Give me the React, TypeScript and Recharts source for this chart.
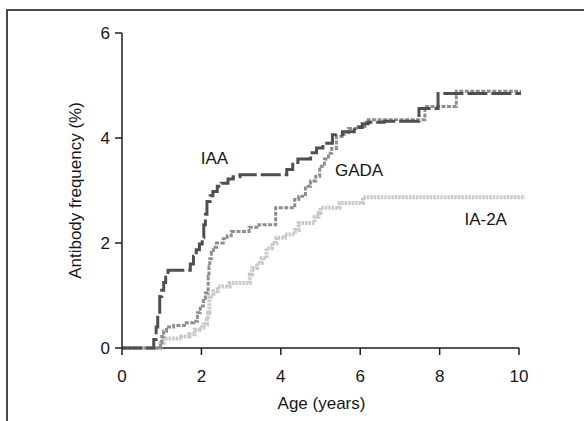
import React from 'react';
import { LineChart, Line, XAxis, YAxis, ReferenceLine, ReferenceDot, Label } from 'recharts';

// Cumulative antibody frequency (%) by age (years), step curves
const iaaAge = [0, 0.8, 0.86, 0.9, 0.95, 1.0, 1.05, 1.1, 1.16, 1.72, 1.8, 1.87, 1.95, 2.02, 2.06, 2.1, 2.14, 2.22, 2.29, 2.4, 2.5, 2.67, 2.8, 2.97, 4.15, 4.3, 4.43, 4.75, 4.9, 5.06, 5.3, 5.55, 5.85, 6.05, 6.2, 6.6, 7.48, 7.96, 10.05];
const iaaPct = [0, 0.16, 0.4, 0.65, 0.98, 1.1, 1.25, 1.38, 1.48, 1.6, 1.75, 1.87, 1.98, 2.1, 2.35, 2.55, 2.79, 2.9, 2.98, 3.08, 3.14, 3.22, 3.26, 3.3, 3.4, 3.5, 3.6, 3.72, 3.81, 3.9, 4.06, 4.12, 4.2, 4.27, 4.3, 4.32, 4.56, 4.85, 4.85];

const gadaAge = [0, 0.97, 1.0, 1.05, 1.12, 1.3, 1.62, 1.8, 1.9, 1.97, 2.05, 2.1, 2.17, 2.19, 2.21, 2.25, 2.3, 2.38, 2.55, 2.65, 2.75, 3.2, 3.45, 3.87, 4.35, 4.45, 4.62, 4.75, 4.88, 4.98, 5.1, 5.2, 5.28, 5.4, 5.6, 5.7, 5.95, 6.16, 7.63, 8.42, 10.05];
const gadaPct = [0, 0.1, 0.22, 0.32, 0.4, 0.43, 0.48, 0.51, 0.67, 0.8, 0.95, 1.05, 1.36, 1.55, 1.7, 1.82, 1.92, 2.0, 2.08, 2.14, 2.22, 2.3, 2.35, 2.67, 2.83, 2.89, 3.08, 3.18, 3.27, 3.46, 3.6, 3.71, 3.8, 4.03, 4.1, 4.18, 4.22, 4.35, 4.6, 4.89, 4.89];

const ia2aAge = [0, 0.97, 1.05, 1.5, 1.7, 1.83, 1.95, 2.05, 2.14, 2.17, 2.2, 2.3, 2.41, 2.71, 3.22, 3.28, 3.4, 3.52, 3.64, 3.78, 3.89, 4.1, 4.35, 4.45, 4.85, 4.95, 5.0, 5.48, 6.07, 10.15];
const ia2aPct = [0, 0.1, 0.18, 0.22, 0.26, 0.35, 0.39, 0.45, 0.55, 0.67, 0.98, 1.08, 1.17, 1.24, 1.4, 1.52, 1.62, 1.71, 1.9, 2.0, 2.1, 2.16, 2.25, 2.38, 2.5, 2.57, 2.67, 2.76, 2.87, 2.87];

const ageTicks = [0, 2, 4, 6, 8, 10];
const pctTicks = [0, 2, 4, 6];
const ageAxisMax = 10.15;
const ageAxisEnd = 10;

// Curve name labels placed at (age, pct)
const curveNames = [
  { name: 'IAA', age: 2.33, pct: 3.62 },
  { name: 'GADA', age: 5.97, pct: 3.39 },
  { name: 'IA-2A', age: 9.16, pct: 2.46 },
];

const toRows = (ages: number[], pcts: number[]) => ages.map((age, i) => ({ age, pct: pcts[i] }));

const iaaData = toRows(iaaAge, iaaPct);
const gadaData = toRows(gadaAge, gadaPct);
const ia2aData = toRows(ia2aAge, ia2aPct);

const FONT = '"Liberation Sans", Arial, Helvetica, sans-serif';
const INK = '#151515';
const AXIS = '#1e1e1e';

export default function App() {
  return (
    <div style={{ position: 'absolute', left: 0, top: 0, width: 584, height: 421, overflow: 'hidden', background: '#fff', fontFamily: FONT }}>
      <div
        style={{
          position: 'absolute',
          left: 6,
          top: 9,
          width: 700,
          height: 600,
          borderLeft: '2px solid #4a4a4a',
          borderTop: '2px solid #4a4a4a',
        }}
      />
      <div style={{ position: 'absolute', left: 0, top: 0 }}>
        <LineChart width={584} height={421} margin={{ top: 33, right: 59, bottom: 0, left: 0 }} style={{ fontFamily: FONT }}>
          <XAxis
            type="number"
            dataKey="age"
            domain={[0, ageAxisMax]}
            ticks={ageTicks}
            interval={0}
            height={73}
            axisLine={false}
            tickSize={7}
            tickMargin={15}
            tickLine={{ stroke: AXIS, strokeWidth: 1.5 }}
            tick={{ fill: INK, fontSize: 17, fontFamily: FONT }}
          >
            <Label
              content={({ viewBox }: any) => (
                <text
                  x={viewBox.x + viewBox.width / 2 - 2}
                  y={viewBox.y + 61}
                  textAnchor="middle"
                  fill={INK}
                  fontSize={17}
                  fontFamily={FONT}
                >
                  Age (years)
                </text>
              )}
            />
          </XAxis>
          <YAxis
            type="number"
            domain={[0, 6]}
            ticks={pctTicks}
            interval={0}
            width={122}
            axisLine={{ stroke: AXIS, strokeWidth: 1.5 }}
            tickSize={7}
            tickMargin={5}
            tickLine={{ stroke: AXIS, strokeWidth: 1.5 }}
            tick={{ fill: INK, fontSize: 17, fontFamily: FONT }}
          >
            <Label
              content={({ viewBox }: any) => (
                <text
                  x={viewBox.x + 75}
                  y={viewBox.y + viewBox.height / 2}
                  transform={`rotate(-90 ${viewBox.x + 75} ${viewBox.y + viewBox.height / 2})`}
                  textAnchor="middle"
                  dominantBaseline="central"
                  fill={INK}
                  fontSize={17}
                  fontFamily={FONT}
                >
                  Antibody frequency (%)
                </text>
              )}
            />
          </YAxis>
          <ReferenceLine
            segment={[
              { x: 0, y: 0 },
              { x: ageAxisEnd, y: 0 },
            ]}
            stroke={AXIS}
            strokeWidth={1.5}
          />
          <Line
            data={ia2aData}
            dataKey="pct"
            type="stepAfter"
            stroke="#c9c9c9"
            strokeWidth={4}
            strokeDasharray="2.5 1"
            dot={false}
            activeDot={false}
            isAnimationActive={false}
          />
          <Line
            data={gadaData}
            dataKey="pct"
            type="stepAfter"
            stroke="#8e8e8e"
            strokeWidth={3}
            strokeDasharray="4 1.5"
            dot={false}
            activeDot={false}
            isAnimationActive={false}
          />
          <Line
            data={iaaData}
            dataKey="pct"
            type="stepAfter"
            stroke="#4f4f4f"
            strokeWidth={3}
            strokeDasharray="20 4"
            dot={false}
            activeDot={false}
            isAnimationActive={false}
          />
          {curveNames.map((c) => (
            <ReferenceDot
              key={c.name}
              x={c.age}
              y={c.pct}
              r={1}
              fill="none"
              stroke="none"
              label={{ value: c.name, position: 'center', fill: INK, fontSize: 17, fontFamily: FONT }}
            />
          ))}
        </LineChart>
      </div>
    </div>
  );
}
